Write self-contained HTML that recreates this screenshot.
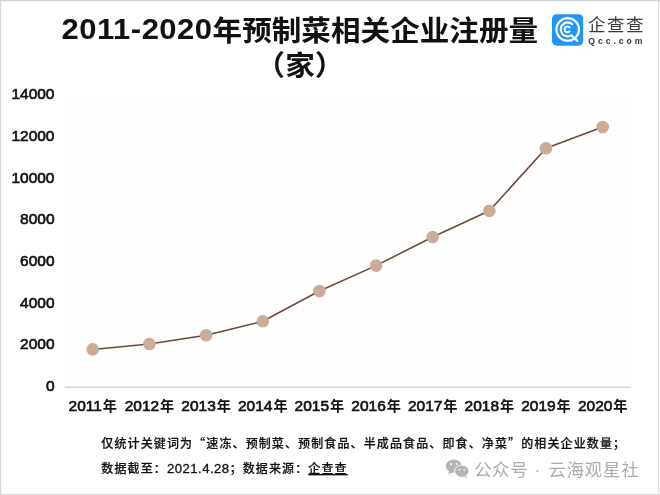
<!DOCTYPE html>
<html lang="zh-CN">
<head>
<meta charset="utf-8">
<title>2011-2020年预制菜相关企业注册量</title>
<style>
html,body{margin:0;padding:0;background:#fff;}
body{width:660px;height:495px;overflow:hidden;position:relative;font-family:"Liberation Sans","Noto Sans CJK SC",sans-serif;}
svg{position:absolute;left:0;top:0;display:block;will-change:transform;}
text{font-family:"Liberation Sans","Noto Sans CJK SC",sans-serif;}
.title{font-size:29.3px;font-weight:700;fill:#111;}
.ylab{font-size:15.5px;font-weight:400;fill:#111;stroke:#111;stroke-width:0.65px;text-anchor:end;letter-spacing:0;}
.xlab{font-size:15.5px;font-weight:400;fill:#111;stroke:#111;stroke-width:0.65px;text-anchor:middle;letter-spacing:0;}
.note{font-size:12px;font-weight:500;fill:#111;stroke:#111;stroke-width:0.2px;letter-spacing:1.12px;}
.wm{font-size:17.3px;font-weight:400;fill:#ababab;letter-spacing:0.9px;}
.cj{font-size:14.2px;font-weight:700;stroke:none;letter-spacing:0;}
.q{font-family:"Noto Sans CJK SC",sans-serif;}
</style>
</head>
<body>
<svg width="660" height="495" viewBox="0 0 660 495">
  <defs>
    <pattern id="grid" x="64.5" y="97" width="5.4" height="5.45" patternUnits="userSpaceOnUse">
      <path d="M0 0.5H5.4M0.5 0V5.45" stroke="#fcfcfc" stroke-width="1" fill="none"/>
    </pattern>
  </defs>
  <rect x="0" y="0" width="660" height="495" fill="#ffffff"/>
  <!-- outer frame -->
  <rect x="659" y="0" width="1" height="495" fill="#f6f6f6"/>
  <rect x="658" y="0" width="1" height="495" fill="#dcdcdc"/>
  <rect x="0" y="494" width="660" height="1" fill="#dedede"/>
  <rect x="0" y="493" width="660" height="1" fill="#f7f7f7"/>
  <rect x="0" y="0" width="1.15" height="495" fill="#d9d9d9"/>
  <rect x="0" y="0" width="660" height="1.3" fill="#d4d4d4"/>

  <!-- plot area -->
  <rect x="64.5" y="95" width="566.5" height="292" fill="url(#grid)"/>
  <line x1="64.8" y1="387.1" x2="631" y2="387.1" stroke="#cdcdcd" stroke-width="1.1"/>

  <!-- title -->
  <g transform="scale(1,0.95)">
  <text class="title" y="42.9"><tspan x="61.6" dy="-1.7" style="font-size:31px;letter-spacing:0.5px;">2011-2020</tspan><tspan x="212.6" dy="1.7" style="font-size:29.6px;">年预制菜相关企业注册量</tspan></text>
  <text class="title" x="300" y="79.6" text-anchor="middle" style="font-size:29.6px;">（家）</text>
  </g>

  <!-- y labels -->
  <g class="ylab">
    <text x="54.5" y="99.4">14000</text>
    <text x="54.5" y="141.1">12000</text>
    <text x="54.5" y="182.7">10000</text>
    <text x="54.5" y="224.4">8000</text>
    <text x="54.5" y="266.0">6000</text>
    <text x="54.5" y="307.7">4000</text>
    <text x="54.5" y="349.4">2000</text>
    <text x="54.5" y="391.0">0</text>
  </g>

  <!-- x labels -->
  <g class="xlab">
    <text x="92.8" y="410.6">2011<tspan class="cj" dx="0.9">年</tspan></text>
    <text x="149.5" y="410.6">2012<tspan class="cj" dx="0.9">年</tspan></text>
    <text x="206.1" y="410.6">2013<tspan class="cj" dx="0.9">年</tspan></text>
    <text x="262.8" y="410.6">2014<tspan class="cj" dx="0.9">年</tspan></text>
    <text x="319.4" y="410.6">2015<tspan class="cj" dx="0.9">年</tspan></text>
    <text x="376.1" y="410.6">2016<tspan class="cj" dx="0.9">年</tspan></text>
    <text x="432.7" y="410.6">2017<tspan class="cj" dx="0.9">年</tspan></text>
    <text x="489.4" y="410.6">2018<tspan class="cj" dx="0.9">年</tspan></text>
    <text x="546" y="410.6">2019<tspan class="cj" dx="0.9">年</tspan></text>
    <text x="602.7" y="410.6">2020<tspan class="cj" dx="0.9">年</tspan></text>
  </g>

  <!-- series -->
  <polyline fill="none" stroke="#6e4735" stroke-width="1.55" stroke-linejoin="round"
    points="92.7,349.4 149.4,344.0 206.1,335.3 262.8,321.3 319.4,291.0 376.1,265.6 432.7,237.0 489.4,210.8 546.0,148.3 602.7,127.0"/>
  <g fill="#d4a98f" stroke="#c6ad9e" stroke-width="3">
    <circle cx="92.7" cy="349.4" r="4.8"/>
    <circle cx="149.4" cy="344.0" r="4.8"/>
    <circle cx="206.1" cy="335.3" r="4.8"/>
    <circle cx="262.8" cy="321.3" r="4.8"/>
    <circle cx="319.4" cy="291.0" r="4.8"/>
    <circle cx="376.1" cy="265.6" r="4.8"/>
    <circle cx="432.7" cy="237.0" r="4.8"/>
    <circle cx="489.4" cy="210.8" r="4.8"/>
    <circle cx="546.0" cy="148.3" r="4.8"/>
    <circle cx="602.7" cy="127.0" r="4.8"/>
  </g>

  <!-- notes -->
  <text class="note" x="101.3" y="448">仅统计关键词为<tspan class="q">“</tspan>速冻、预制菜、预制食品、半成品食品、即食、净菜<tspan class="q">”</tspan>的相关企业数量；</text>
  <text class="note" x="101.3" y="473">数据截至：<tspan style="font-size:13.2px;letter-spacing:0.45px;stroke:#111;stroke-width:0.3px;">2021.4.28</tspan>；数据来源：<tspan text-decoration="underline">企查查</tspan></text>

  <!-- logo -->
  <g>
    <rect x="552" y="14.2" width="31.2" height="31.5" rx="4.6" fill="#2196f3"/>
    <g fill="none" stroke="#fff" stroke-width="2.1" stroke-linecap="round">
      <circle cx="567.7" cy="29.4" r="11.3"/>
      <path d="M572.4 24.2 A7 7 0 1 0 571.3 35.4 L577.4 40.9"/>
      <path d="M569.6 27.4 A2.9 2.9 0 1 0 569.6 31.4"/>
    </g>
    <text x="587.9" y="31" style="font-size:17.5px;font-weight:400;fill:#3a3a3a;letter-spacing:1.6px;">企查查</text>
    <text x="588.3" y="44.2" style="font-size:8.6px;font-weight:700;fill:#333;letter-spacing:2.95px;">Qcc.com</text>
  </g>

  <!-- watermark -->
  <g fill="#b4b4b4">
    <path d="M448.2 474.2 L449.4 470.6 L452.6 472.4 Z"/>
    <ellipse cx="453.7" cy="466.1" rx="7.9" ry="6.6"/>
    <path d="M467.2 478.2 L466.2 475.2 L463.4 476.6 Z"/>
    <ellipse cx="461.8" cy="471.2" rx="7.6" ry="6.4" fill="#fff"/>
    <ellipse cx="461.8" cy="471.2" rx="6.7" ry="5.6"/>
  </g>
  <g fill="#fff">
    <circle cx="451.2" cy="464" r="1.05"/><circle cx="456.6" cy="464" r="1.05"/>
    <circle cx="459.4" cy="469.6" r="0.9"/><circle cx="464.2" cy="469.6" r="0.9"/>
  </g>
  <text class="wm" x="474.2" y="476">公众号</text>
  <text class="wm" x="537.3" y="476" text-anchor="middle" style="letter-spacing:0;">·</text>
  <text class="wm" x="548.5" y="476">云海观星社</text>
</svg>
</body>
</html>
